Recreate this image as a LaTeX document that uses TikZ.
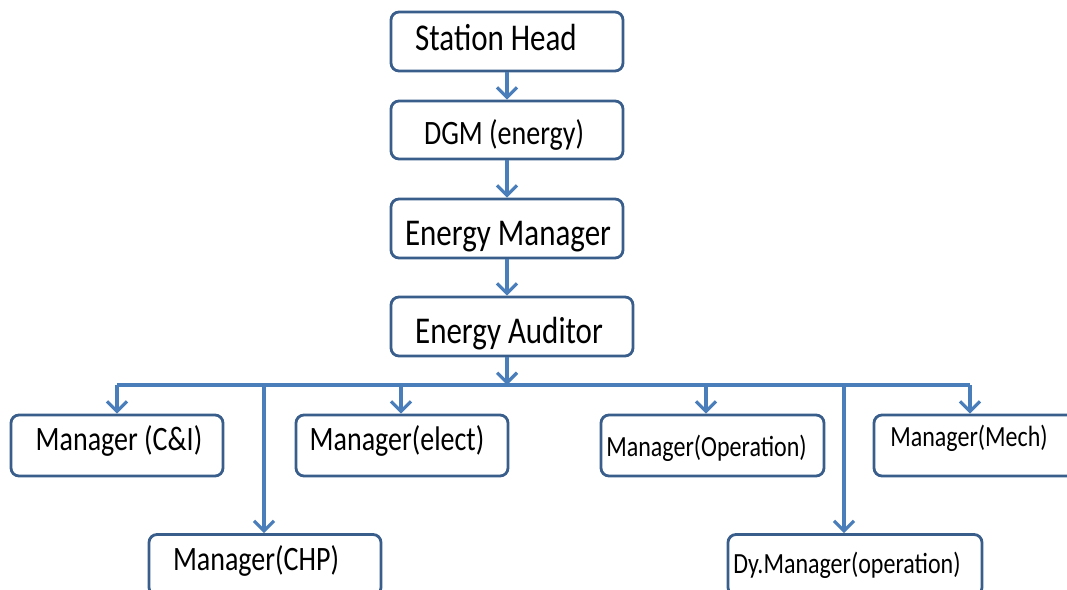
\documentclass[tikz,border=0pt]{standalone}
\usepackage{fontspec}
\setmainfont{Carlito}
\usetikzlibrary{arrows.meta}
\definecolor{boxblue}{RGB}{58,94,140}
\definecolor{lineblue}{RGB}{74,126,187}
\newcommand{\tall}[1]{\scalebox{1}[1.22]{#1}}
\begin{document}
\begin{tikzpicture}[
    x=1pt, y=-1pt, >={Straight Barb[length=10pt,width=20pt]},
    box/.style={draw=boxblue, line width=2.8pt, rounded corners=8pt, fill=white,
                minimum height=59pt, inner sep=0pt},
    big/.style={font=\fontsize{31}{36}\selectfont},
    mid/.style={font=\fontsize{28}{33}\selectfont},
    sml/.style={font=\fontsize{24}{28}\selectfont},
    flow/.style={->, draw=lineblue, line width=3.2pt, line join=round},
    bus/.style={draw=lineblue, line width=3.2pt},
]
\useasboundingbox (0,0) rectangle (1067,589);
\clip (0,0) rectangle (1067,589);
\fill[white] (0,0) rectangle (1067,589);

% chain at the top
\node[box, minimum width=232pt, label={[big, xshift=-11pt, yshift=4pt]center:\tall{Station Head}}] (head) at (507,41.5) {};
\node[box, minimum width=232pt, minimum height=58pt, label={[mid, xshift=-3pt, yshift=-5pt]center:\tall{DGM (energy)}}] (dgm) at (507,130) {};
\node[box, minimum width=232pt, label={[big, xshift=1pt, yshift=-8pt]center:\tall{Energy Manager}}] (emgr) at (507,228.5) {};
\node[box, minimum width=242pt, label={[big, xshift=-3pt, yshift=-7pt]center:\tall{Energy Auditor}}] (aud) at (512,326.5) {};
\draw[flow] (head) -- (dgm);
\draw[flow] (dgm) -- (emgr);
\draw[flow] (emgr.south) -- (emgr.south |- aud.north);

% managers
\node[box, minimum width=212pt, minimum height=61pt, label={[mid, xshift=2pt, yshift=5pt]center:\tall{Manager (C\&I)}}] (ci) at (117,445.5) {};
\node[box, minimum width=212pt, minimum height=61pt, label={[mid, xshift=-5pt, yshift=5pt]center:\tall{Manager(elect)}}] (elect) at (402,445.5) {};
\node[box, minimum width=223pt, minimum height=61pt, label={[sml, xshift=-6pt, yshift=-3pt]center:\tall{Manager(Operation)}}] (oper) at (712.5,445.5) {};
\node[box, minimum width=212pt, minimum height=61pt, label={[sml, xshift=-11pt, yshift=7pt]center:\tall{Manager(Mech)}}] (mech) at (980,445.5) {};
\node[box, minimum width=232pt, minimum height=61pt, label={[mid, xshift=-9pt, yshift=4pt]center:\tall{Manager(CHP)}}] (chp) at (265,565) {};
\node[box, minimum width=254pt, minimum height=61pt, label={[sml, xshift=-8pt]center:\tall{Dy.Manager(operation)}}] (dy) at (855,565) {};

% bus line and branches
\coordinate (hub) at (507,385);
\draw[flow] (emgr.south |- aud.south) -- (hub);
\draw[bus] (117,385) coordinate (bL) -- (970,385) coordinate (bR);
\foreach \n/\x in {ci/117, chp/264, elect/401, oper/706, dy/844, mech/970}
    \draw[flow] (\x,385) coordinate (b\n) -- (b\n |- \n.north);
\end{tikzpicture}
\end{document}
